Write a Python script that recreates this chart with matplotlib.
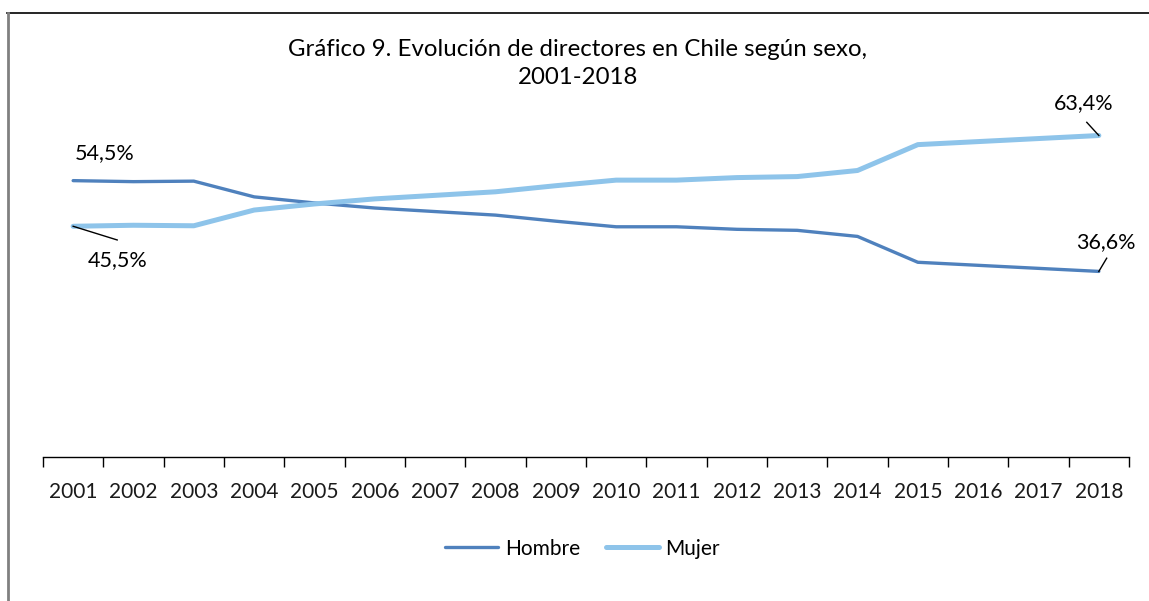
import matplotlib.pyplot as plt
from matplotlib.lines import Line2D

# datos
anios = ['2001', '2002', '2003', '2004', '2005', '2006', '2007', '2008', '2009',
         '2010', '2011', '2012', '2013', '2014', '2015', '2016', '2017', '2018']
hombre = [54.5, 54.3, 54.4, 51.3, 50.1, 49.1, 48.4, 47.7, 46.5,
          45.4, 45.4, 44.9, 44.7, 43.5, 38.4, 37.8, 37.2, 36.6]
mujer = [45.5, 45.7, 45.6, 48.7, 49.9, 50.9, 51.6, 52.3, 53.5,
         54.6, 54.6, 55.1, 55.3, 56.5, 61.6, 62.2, 62.8, 63.4]

plt.rcParams['font.family'] = ['Lato', 'DejaVu Sans']

azul = '#4f81bd'
celeste = '#8ec4ea'

fig = plt.figure(figsize=(11.49, 6.01), dpi=100)
ax = fig.add_axes([0.0374, 0.2396, 0.9452, 0.675])

x = list(range(len(anios)))
ax.plot(x, hombre, color=azul, lw=2.4, solid_capstyle='round')
ax.plot(x, mujer, color=celeste, lw=3.6, solid_capstyle='round')

ax.set_xlim(-0.5, len(anios) - 0.5)
ax.set_ylim(0, 80)

for s in ['top', 'right', 'left']:
    ax.spines[s].set_visible(False)
ax.spines['bottom'].set_color('#000000')
ax.spines['bottom'].set_linewidth(1.0)
ax.set_yticks([])
ax.set_xticks(x)
ax.set_xticklabels(anios, fontsize=15, color='#1a1a1a')
ax.tick_params(axis='x', which='major', length=0, pad=18)
ax.set_xticks([i - 0.5 for i in range(len(anios) + 1)], minor=True)
ax.tick_params(axis='x', which='minor', length=7, width=1, color='#000000')

# etiquetas de datos (texto + linea guia)
etiquetas = [('54,5%', 0.52, 60.0), ('45,5%', 0.73, 38.9),
             ('63,4%', 16.75, 69.8), ('36,6%', 17.12, 42.4)]
for txt, tx, ty in etiquetas:
    ax.text(tx, ty, txt, fontsize=15.5, ha='center', va='center')

guias = [((0, mujer[0]), (0.73, 42.8)),
         ((17, mujer[-1]), (16.80, 66.0)),
         ((17, hombre[-1]), (17.13, 39.2))]
for (x0, y0), (x1, y1) in guias:
    ax.plot([x0, x1], [y0, y1], color='black', lw=1)

fig.text(0.503, 0.895, 'Gráfico 9. Evolución de directores en Chile según sexo,\n2001-2018',
         ha='center', va='center', fontsize=17.3, linespacing=1.4)

handles = [Line2D([], [], color=azul, lw=2.4, solid_capstyle='round'),
           Line2D([], [], color=celeste, lw=3.6, solid_capstyle='round')]
fig.legend(handles, ['Hombre', 'Mujer'], loc='center', bbox_to_anchor=(0.507, 0.087),
           ncol=2, frameon=False, fontsize=15, handlelength=2.55, handletextpad=0.3,
           columnspacing=1.25)

# marco
fig.add_artist(Line2D([0.0065, 1.0], [1 - 13 / 601] * 2, color='#000000', lw=1.2))
fig.add_artist(Line2D([0.0068] * 2, [0, 1 - 13 / 601], color='#808080', lw=2))

fig.savefig('out.png', dpi=100)
